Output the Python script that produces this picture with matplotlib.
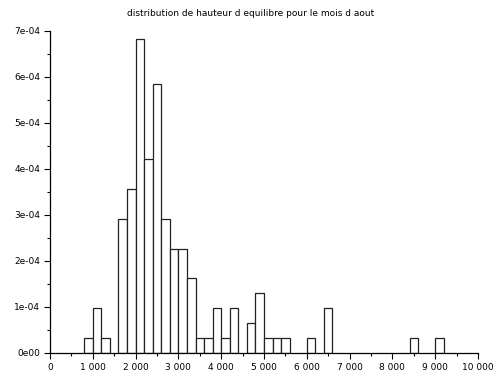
import matplotlib
matplotlib.use("Agg")
import matplotlib.pyplot as plt

# histogram bins (left edge, width 200) and density values
bin_left = [800, 1000, 1200, 1600, 1800, 2000, 2200, 2400, 2600, 2800, 3000,
            3200, 3400, 3600, 3800, 4000, 4200, 4600, 4800, 5000, 5200, 5400,
            6000, 6400, 8400, 9000]
density = [0.327e-4, 0.98e-4, 0.327e-4, 2.92e-4, 3.57e-4, 6.82e-4, 4.22e-4,
           5.85e-4, 2.92e-4, 2.27e-4, 2.27e-4, 1.62e-4, 0.327e-4, 0.327e-4,
           0.98e-4, 0.327e-4, 0.98e-4, 0.65e-4, 1.30e-4, 0.327e-4, 0.327e-4,
           0.327e-4, 0.327e-4, 0.98e-4, 0.327e-4, 0.327e-4]
bin_width = 200

xticks = [0, 1000, 2000, 3000, 4000, 5000, 6000, 7000, 8000, 9000, 10000]
xtick_labels = ["0", "1 000", "2 000", "3 000", "4 000", "5 000", "6 000",
                "7 000", "8 000", "9 000", "10 000"]
yticks = [0, 1e-4, 2e-4, 3e-4, 4e-4, 5e-4, 6e-4, 7e-4]
ytick_labels = ["0e00", "1e-04", "2e-04", "3e-04", "4e-04", "5e-04", "6e-04", "7e-04"]

fig = plt.figure(figsize=(5.01, 3.76), dpi=100)
ax = fig.add_axes([50 / 501, 23 / 376, 428 / 501, 322 / 376])

ax.bar(bin_left, density, width=bin_width, align="edge",
       facecolor="white", edgecolor="#222222", linewidth=0.9)

ax.set_xlim(0, 10000)
ax.set_ylim(0, 7e-4)
ax.set_xticks(xticks)
ax.set_xticklabels(xtick_labels)
ax.set_yticks(yticks)
ax.set_yticklabels(ytick_labels)
ax.set_xticks([500 + 1000 * i for i in range(10)], minor=True)
ax.set_yticks([0.5e-4 + 1e-4 * i for i in range(7)], minor=True)
ax.tick_params(axis="both", which="major", labelsize=6.5, length=4, width=0.8,
               direction="out", pad=3, colors="black")
ax.tick_params(axis="both", which="minor", length=2, width=0.8, direction="out")

for s in ["top", "right"]:
    ax.spines[s].set_visible(False)
for s in ["left", "bottom"]:
    ax.spines[s].set_linewidth(0.9)

fig.text(0.5, 1 - 14 / 376, "distribution de hauteur d equilibre pour le mois d aout",
         ha="center", va="center", fontsize=6.5)

plt.savefig("out.png", dpi=100)
plt.close()
